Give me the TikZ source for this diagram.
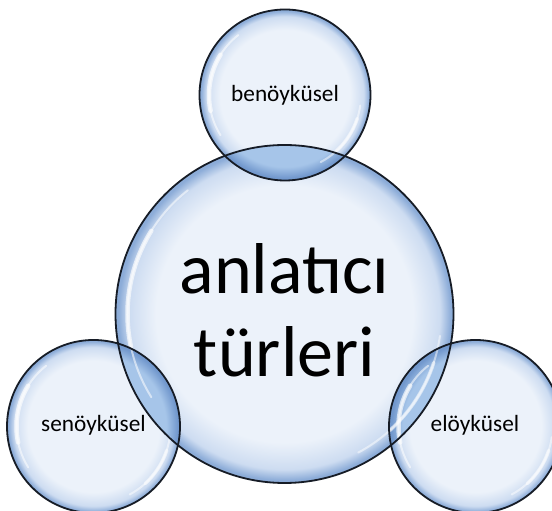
\documentclass[tikz,border=0pt]{standalone}
\usepackage{fontspec}
\setmainfont{Carlito}
\definecolor{bubin}{RGB}{236,242,250}
\definecolor{bubmid}{RGB}{205,220,241}
\definecolor{bubedge}{RGB}{140,172,216}
\definecolor{ovin}{RGB}{166,197,233}
\definecolor{ovedge}{RGB}{114,152,205}
\definecolor{rimline}{RGB}{22,28,38}
\pgfdeclareradialshading{bubble}{\pgfpoint{0bp}{0bp}}{color(0bp)=(bubin); color(19bp)=(bubin); color(23bp)=(bubmid); color(24.6bp)=(bubedge); color(25bp)=(bubedge); color(50bp)=(bubedge)}
\pgfdeclareradialshading{overlapshade}{\pgfpoint{0bp}{0bp}}{color(0bp)=(ovin); color(21bp)=(ovin); color(24.3bp)=(ovedge); color(25bp)=(ovedge); color(50bp)=(ovedge)}
\newcommand{\bubgloss}[2]{%
  \draw[gloss, line width=2pt, opacity=.55] (#1.center) ++(128:#2) arc[start angle=128, end angle=212, radius=#2];
  \draw[gloss, line width=4.5pt, opacity=.65] (#1.center) ++(148:#2) arc[start angle=148, end angle=192, radius=#2];
  \draw[gloss, line width=2pt, opacity=.5] (#1.center) ++(-8:#2) arc[start angle=-8, end angle=-62, radius=#2];
  \draw[gloss, line width=3.5pt, opacity=.55] (#1.center) ++(-18:#2) arc[start angle=-18, end angle=-48, radius=#2];
}
\begin{document}
\begin{tikzpicture}[x=1pt,y=1pt,
  bubblefill/.style={circle, inner sep=0pt, outer sep=0pt, minimum size=#1, shade, shading=bubble},
  rim/.style={draw=rimline, line width=1.8pt},
  gloss/.style={draw=white, line cap=round},
  lbl/.style={font=\fontsize{23.3}{28}\selectfont, text=black, inner sep=0pt},
  biglbl/.style={font=\fontsize{72}{83}\selectfont, align=center, text=black, inner sep=0pt}]
\useasboundingbox (0,0) rectangle (552,511);
\clip (0,0) rectangle (552,511);
\fill[white] (0,0) rectangle (552,511);
% bubbles
\node[bubblefill=338pt] (big) at (284.5,197) {};
\node[bubblefill=171pt] (top) at (285,416) {};
\node[bubblefill=173pt] (left) at (93.5,84.5) {};
\node[bubblefill=173pt] (right) at (475.5,84.5) {};
% overlaps
\begin{scope}
  \clip (big.center) circle (169pt);
  \shade[shading=overlapshade] (top.center) circle (85.5pt);
  \shade[shading=overlapshade] (left.center) circle (86.5pt);
  \shade[shading=overlapshade] (right.center) circle (86.5pt);
\end{scope}
% gloss highlights
\bubgloss{big}{157}
\bubgloss{top}{76}
\bubgloss{left}{77}
\bubgloss{right}{77}
% outlines
\draw[rim] (big.center) circle (169pt);
\draw[rim] (top.center) circle (85.5pt);
\draw[rim] (left.center) circle (86.5pt);
\draw[rim] (right.center) circle (86.5pt);
% labels
\node[biglbl] (bigtext) at (284.5,201) {anlatıcı\\türleri};
\node[lbl, anchor=base] (toptext) at (285,409.3) {benöyküsel};
\node[lbl, anchor=base] (lefttext) at (93.5,79.3) {senöyküsel};
\node[lbl, anchor=base] (righttext) at (475,79.3) {elöyküsel};
\end{tikzpicture}
\end{document}
